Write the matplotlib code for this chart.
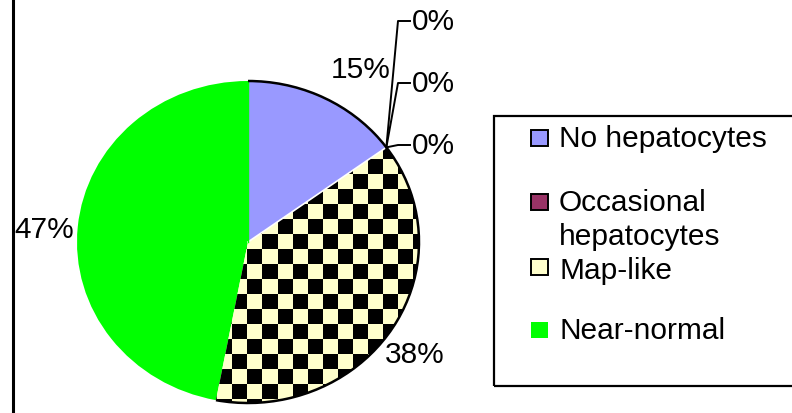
import numpy as np
import matplotlib
matplotlib.use("Agg")
import matplotlib.pyplot as plt
from matplotlib.patches import Rectangle, Arc
from matplotlib.colors import ListedColormap

plt.rcParams['font.family'] = ['Liberation Sans', 'DejaVu Sans']

# ---- data ----
categories = ["No hepatocytes", "Occasional hepatocytes", "", "", "Map-like", "Near-normal"]
values = [15, 0, 0, 0, 38, 47]
colors = ["#9999FF", "#993366", "#993366", "#993366", "#FFFFCC", "#00FF00"]
legend_names = ["No hepatocytes", "Occasional", "Map-like", "Near-normal"]
legend_extra = "hepatocytes"
legend_colors = ["#9999FF", "#993366", "#FFFFCC", "#00FF00"]

W, H = 792, 414
CX, CY, RX, RY = 248, 243, 171, 161

def X(px):
    return (px - CX) / RX

def Y(py):
    return (CY - py) / RY

fig = plt.figure(figsize=(W / 100, H / 100), dpi=100)
ax = fig.add_axes([0, 0, 1, 1])

wedges, _ = ax.pie(values, colors=colors, startangle=90, counterclock=False,
                   wedgeprops=dict(edgecolor='none', linewidth=0))
ax.set_aspect('auto')
ax.set_xlim(X(0), X(W))
ax.set_ylim(Y(H), Y(0))
ax.axis('off')

# checkerboard texture for Map-like
cell = 15
ncol, nrow = 25, 24
chk = ((np.add.outer(np.arange(nrow), np.arange(ncol)) + 1) % 2).astype(float)
cmap = ListedColormap(["#FFFFCC", "#000000"])
im = ax.imshow(chk, cmap=cmap, interpolation='nearest', aspect='auto',
               extent=(X(67), X(67 + ncol * cell), Y(70 + nrow * cell), Y(70)), zorder=1.5)
im.set_clip_path(wedges[4])

# outline arc for non-green slices
total = sum(values)
theta_start = 90 - 360 * sum(values[:5]) / total
ax.add_patch(Arc((0, 0), 2, 2, theta1=theta_start, theta2=90, color='black', lw=1.8, zorder=3))
a = np.deg2rad(90 - 360 * values[0] / total)
ax.plot([0, np.cos(a)], [0, np.sin(a)], color='white', lw=1.2, zorder=2)
ax.plot([0, 0], [0, 1], color='#00FF00', lw=1.0, zorder=2)

# labels
fs = 21.5
pct = [f"{round(100 * v / total)}%" for v in values]
ax.text(X(361), Y(70), pct[0], ha='center', va='center', fontsize=fs)
ax.text(X(415), Y(355), pct[4], ha='center', va='center', fontsize=fs)
ax.text(X(44), Y(230), pct[5], ha='center', va='center', fontsize=fs)

# zero-slice labels with leader lines
px_, py_ = np.cos(a), np.sin(a)
for k, ty in zip([1, 2, 3], [22, 84, 146]):
    ax.plot([px_, X(398), X(410)], [py_, Y(ty), Y(ty)], color='black', lw=1.4, zorder=4)
    ax.text(X(412), Y(ty), pct[k], ha='left', va='center', fontsize=fs)

# left border line
ax.plot([X(13), X(13)], [Y(0), Y(H)], color='black', lw=2.2)

# legend (manual)
ax.add_patch(Rectangle((X(494), Y(387)), X(800) - X(494), Y(117) - Y(387),
                       fill=False, edgecolor='black', lw=1.6, zorder=5))
lys = [139, 203, 268, 331]
tys = [139, 203, 271, 331]
for name, c, ly, ty in zip(legend_names, legend_colors, lys, tys):
    ec = 'none' if c == "#00FF00" else 'black'
    ax.add_patch(Rectangle((X(531), Y(ly + 8)), X(548) - X(531), Y(ly - 8) - Y(ly + 8),
                           facecolor=c, edgecolor=ec, lw=1.4, zorder=5))
    ax.text(X(559), Y(ty), name, ha='left', va='center', fontsize=fs)
ax.text(X(559), Y(237), legend_extra, ha='left', va='center', fontsize=fs)

fig.savefig("out.png", dpi=100)
